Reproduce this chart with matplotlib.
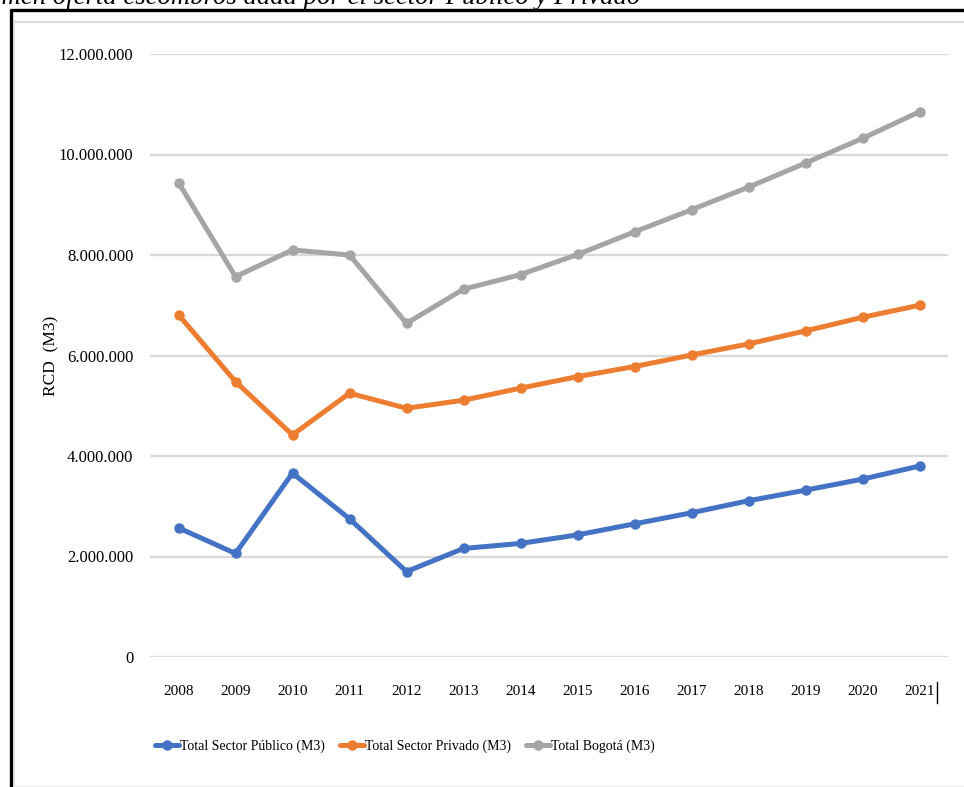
import matplotlib
matplotlib.use("Agg")
import matplotlib.pyplot as plt
from matplotlib.lines import Line2D
from matplotlib.ticker import FuncFormatter

# Residuos de construcción y demolición (RCD) por sector, en m3
years = ["2008", "2009", "2010", "2011", "2012", "2013", "2014",
         "2015", "2016", "2017", "2018", "2019", "2020", "2021"]
sector_publico = [2570000, 2060000, 3660000, 2750000, 1700000, 2160000, 2260000,
                  2430000, 2650000, 2870000, 3110000, 3320000, 3540000, 3800000]
sector_privado = [6810000, 5480000, 4420000, 5250000, 4950000, 5110000, 5350000,
                  5580000, 5780000, 6010000, 6230000, 6490000, 6760000, 7000000]
total_bogota = [9440000, 7570000, 8100000, 8000000, 6640000, 7320000, 7610000,
                8010000, 8460000, 8900000, 9350000, 9830000, 10320000, 10850000]

series_labels = ["Total Sector Público (M3)", "Total Sector Privado (M3)", "Total Bogotá (M3)"]
series_colors = ["#4472C4", "#ED7D31", "#A5A5A5"]
y_ticks = [0, 2000000, 4000000, 6000000, 8000000, 10000000, 12000000]

SERIF = ["Liberation Serif", "DejaVu Serif"]
W, H = 964, 787

fig = plt.figure(figsize=(W / 100, H / 100), dpi=100)

# Leyenda superior (recortada por el borde)
fig.text(640 / W, 1 - 4 / H,
         "Volumen oferta escombros dada por el sector Público y Privado",
         ha="right", va="baseline", fontsize=19.3, style="italic",
         family=SERIF, color="black")

# Marco exterior negro y borde interior gris del área de gráfico
fig.add_artist(Line2D([10.5 / W, 10.5 / W], [0, 1 - 9 / H], color="black",
                      lw=2.4, transform=fig.transFigure, solid_capstyle="butt"))
fig.add_artist(Line2D([9.5 / W, 1], [1 - 9.5 / H, 1 - 9.5 / H], color="black",
                      lw=2.4, transform=fig.transFigure, solid_capstyle="butt"))
fig.add_artist(Line2D([14 / W, 14 / W], [0, 1 - 21 / H], color="#d9d9d9",
                      lw=1.2, transform=fig.transFigure))
fig.add_artist(Line2D([14 / W, 1], [1 - 21.5 / H, 1 - 21.5 / H], color="#d9d9d9",
                      lw=1.5, transform=fig.transFigure))
fig.add_artist(Line2D([14 / W, 1], [0.6 / H, 0.6 / H], color="#ececec",
                      lw=1.0, transform=fig.transFigure))

ax = fig.add_axes([150 / W, 1 - 657 / H, (948 - 150) / W, (657 - 54) / H])
x = list(range(len(years)))

for vals, lab, col in zip([sector_publico, sector_privado, total_bogota],
                          series_labels, series_colors):
    ax.plot(x, vals, color=col, lw=3.6, marker="o", markersize=7.5,
            markeredgewidth=0, label=lab, solid_joinstyle="round",
            solid_capstyle="round")

ax.set_xlim(-0.5, len(years) - 0.5)
ax.set_ylim(0, 12000000)
ax.set_yticks(y_ticks)
ax.yaxis.set_major_formatter(FuncFormatter(lambda v, p: f"{int(v):,}".replace(",", ".")))
ax.set_xticks(x)
ax.set_xticklabels(years)
ax.grid(axis="y", color="#d9d9d9", lw=1.6)
ax.set_axisbelow(True)
for s in ax.spines.values():
    s.set_visible(False)
ax.tick_params(axis="both", length=0)
ax.tick_params(axis="y", pad=12, labelsize=12)
ax.tick_params(axis="x", pad=20, labelsize=11)
for t in ax.get_yticklabels() + ax.get_xticklabels():
    t.set_family(SERIF)

ax.set_ylabel("RCD  (M3)", family=SERIF, fontsize=12.5)
ax.yaxis.set_label_coords(-0.113, 0.5)

# Marca vertical junto a la última etiqueta del eje X
fig.add_artist(Line2D([937 / W, 937 / W], [1 - 703 / H, 1 - 682 / H], color="black",
                      lw=1.0, transform=fig.transFigure))

handles, labels = ax.get_legend_handles_labels()
leg = fig.legend(handles, labels, loc="center left", ncol=3,
                 bbox_to_anchor=(155 / W, 1 - 746 / H), frameon=False,
                 prop={"family": SERIF, "size": 10},
                 handlelength=1.7, handletextpad=0.1, columnspacing=1.1,
                 borderaxespad=0, borderpad=0)

fig.savefig("out.png", dpi=100)
